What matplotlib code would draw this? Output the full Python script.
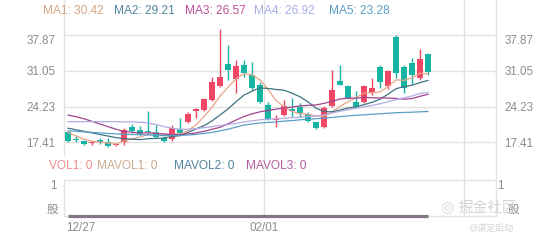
import matplotlib.pyplot as plt

plt.rcParams['font.family'] = ['Liberation Sans', 'Noto Sans CJK SC']

# ---- data ----
opens = [19.4, 17.9, 17.7, 17.3, 17.85, 17.5, 16.8, 17.4, 20.4, 19.8,
         19.5, 19.4, 18.3, 18.0, 19.95, 21.2, 23.3, 23.6, 25.5, 28.2,
         32.3, 29.4, 32.2, 30.3, 28.35, 24.5, 21.6, 22.6, 23.8, 24.2,
         22.76, 21.23, 20.4, 24.4, 29.1, 28.16, 25.17, 25.05, 26.77, 31.86,
         28.16, 37.58, 31.86, 32.5, 29.6, 34.3]
highs = [19.5, 18.8, 17.8, 17.7, 18.3, 18.2, 17.2, 20.2, 20.9, 20.6,
         23.4, 20.7, 18.6, 20.7, 22.0, 23.2, 23.9, 25.9, 29.9, 39.0,
         36.0, 33.1, 33.1, 32.8, 29.0, 25.1, 22.6, 25.5, 25.8, 24.9,
         23.1, 21.3, 24.3, 31.2, 32.2, 28.3, 27.2, 28.3, 29.75, 32.2,
         31.2, 37.9, 32.2, 33.4, 35.2, 34.5]
lows = [17.5, 17.5, 16.9, 16.9, 17.1, 16.6, 16.7, 16.8, 19.1, 18.8,
        19.1, 18.3, 17.4, 17.6, 18.8, 21.1, 22.0, 23.4, 25.3, 28.0,
        29.3, 26.8, 29.9, 27.4, 24.9, 21.7, 20.4, 22.5, 22.2, 22.2,
        21.2, 20.0, 20.1, 24.2, 28.3, 25.7, 23.9, 24.9, 26.4, 27.8,
        27.5, 29.6, 26.9, 28.6, 29.3, 30.2]
closes = [17.7, 17.8, 17.0, 17.4, 17.4, 16.7, 17.0, 19.7, 19.6, 18.9,
          19.4, 18.5, 17.7, 20.2, 19.1, 22.8, 23.8, 25.7, 28.9, 29.9,
          31.2, 32.0, 30.6, 27.7, 25.05, 21.9, 21.8, 24.35, 23.3, 22.95,
          21.5, 20.1, 23.9, 27.4, 28.4, 25.8, 24.2, 28.2, 27.8, 29.0,
          31.0, 30.6, 27.7, 30.3, 33.3, 30.9]

ma1 = [19.3, 18.6, 18.0, 17.6, 17.46, 17.26, 17.1, 17.64, 18.08, 18.38,
       18.92, 19.22, 18.82, 18.94, 18.98, 19.66, 20.72, 22.32, 24.06, 26.22,
       27.9, 29.54, 30.52, 30.28, 29.31, 27.45, 25.41, 24.16, 23.28, 22.86,
       22.78, 22.44, 22.35, 23.17, 24.26, 25.12, 25.94, 26.8, 26.88, 27.0,
       28.04, 29.32, 29.22, 29.72, 30.58, 30.42]
ma2 = [20.1, 19.8, 19.5, 19.2, 18.9, 18.6, 18.3, 18.1, 18.0, 17.92,
       18.09, 18.16, 18.23, 18.51, 18.68, 19.29, 19.97, 20.57, 21.5, 22.6,
       23.78, 25.13, 26.42, 27.17, 27.77, 27.68, 27.48, 27.34, 26.78, 26.09,
       25.12, 23.93, 23.26, 23.23, 23.56, 23.95, 24.19, 24.58, 25.03, 25.63,
       26.58, 27.63, 28.01, 28.3, 28.79, 29.21]
ma3 = [22.6, 22.3, 21.9, 21.4, 20.9, 20.4, 19.9, 19.5, 19.3, 19.2,
       19.2, 19.1, 19.0, 18.9, 18.9, 19.0, 19.2, 19.5, 19.9, 20.26,
       20.94, 21.65, 22.33, 22.84, 23.22, 23.48, 23.72, 23.96, 24.14, 24.34,
       24.45, 24.53, 24.84, 25.2, 25.66, 25.81, 25.83, 25.96, 25.9, 25.86,
       25.85, 25.78, 25.63, 25.76, 26.18, 26.57]
ma4 = [21.35, 21.35, 21.35, 21.35, 21.35, 21.35, 21.35, 21.3, 21.3, 21.25,
       21.1, 20.8, 20.4, 20.1, 19.9, 19.9, 20.0, 20.2, 20.4, 20.6,
       20.8, 21.0, 21.3, 21.5, 21.7, 21.8, 21.9, 22.0, 22.1, 22.2,
       22.33, 22.4, 22.64, 22.97, 23.34, 23.64, 23.88, 24.16, 24.44, 24.77,
       25.16, 25.56, 25.9, 26.23, 26.7, 26.92]
ma5 = [19.6, 19.5, 19.4, 19.3, 19.2, 19.1, 19.0, 18.95, 18.9, 18.85,
       18.8, 18.75, 18.7, 18.7, 18.7, 18.8, 18.9, 19.1, 19.3, 19.6,
       19.9, 20.3, 20.7, 20.9, 21.1, 21.2, 21.3, 21.45, 21.55, 21.7,
       21.8, 21.9, 22.0, 22.15, 22.3, 22.45, 22.55, 22.65, 22.75, 22.85,
       22.95, 23.05, 23.1, 23.15, 23.22, 23.28]

volume = [0, 0, 0, 0, 0, 0, 0, 0, 0, 0, 0, 0, 0, 0, 0, 0, 0, 0, 0, 0, 0, 0, 0,
          0, 0, 0, 0, 0, 0, 0, 0, 0, 0, 0, 0, 0, 0, 0, 0, 0, 0, 0, 0, 0, 0, 0]

price_ticks = [17.41, 24.23, 31.05, 37.87]
date_labels = ['12/27', '02/01']
ma_names = ['MA1', 'MA2', 'MA3', 'MA4', 'MA5']
ma_last = [30.42, 29.21, 26.57, 26.92, 23.28]
vol_names = ['VOL1', 'MAVOL1', 'MAVOL2', 'MAVOL3']
vol_last = [0, 0, 0, 0]

# ---- style ----
UP, DOWN = '#f04864', '#17b3a3'
GRID = '#e3e3e3'
LABEL = '#8c8c8c'
ma_line_colors = ['#eba487', '#3f7283', '#a2448f', '#b3ace3', '#5b9ec4']
ma_text_colors = ['#d3a585', '#52869c', '#bd4f98', '#a9aee6', '#5a9ec6']
vol_text_colors = ['#ee8c8c', '#c9a98c', '#4f86a0', '#b65aa0']

W, H = 560, 240
fig = plt.figure(figsize=(W / 100, H / 100), dpi=100)
ax = fig.add_axes([64 / W, 1 - 156 / H, 432 / W, 156 / H])
axv = fig.add_axes([64 / W, 1 - 216 / H, 432 / W, 60 / H])

n_slots = 54
for a in (ax, axv):
    a.set_xlim(-0.5, n_slots - 0.5)
    a.set_xticks([])
    for s in a.spines.values():
        s.set_color(GRID)
        s.set_linewidth(1.0)
    a.spines['top'].set_visible(False)
    for xv in (24.5, 49.5):
        a.axvline(xv, color=GRID, lw=1.0, zorder=0)

# ---- price panel ----
px_per_unit = 35.77 / 6.82
ax.set_ylim(17.41 - (156 - 142.3) / px_per_unit, 17.41 + 142.3 / px_per_unit)
ax.spines['bottom'].set_visible(False)
for t in price_ticks:
    ax.axhline(t, color=GRID, lw=1.0, zorder=0)
ax.set_yticks(price_ticks)
ax.set_yticklabels([f'{t:.2f}' for t in price_ticks])
ax.tick_params(axis='y', length=0, labelsize=8.4, labelcolor=LABEL,
               pad=6, labelright=True)
# top label sits under its grid line
for tick in ax.yaxis.get_major_ticks():
    if abs(tick.get_loc() - price_ticks[-1]) < 1e-6:
        tick.label1.set_va('top')
        tick.label2.set_va('top')

xs = list(range(len(closes)))
for i in xs:
    c = UP if closes[i] >= opens[i] else DOWN
    ax.vlines(i, lows[i], highs[i], color=c, lw=1.0, zorder=3, clip_on=False)
    lo = min(opens[i], closes[i])
    h = max(abs(closes[i] - opens[i]), 0.15)
    ax.bar(i, h, bottom=lo, width=0.78, color=c, zorder=4, linewidth=0)

for ma, col in zip([ma1, ma2, ma3, ma4, ma5], ma_line_colors):
    ax.plot(xs, ma, color=col, lw=0.9, zorder=5)

# ---- volume panel ----
axv.set_ylim(0, 60 / 36)
axv.spines['left'].set_bounds(0, 1)
axv.axhline(1, color=GRID, lw=1.0, zorder=0)
axv.set_yticks([])
axv.plot(xs, volume, color='#857585', lw=2.3, zorder=5, clip_on=False,
         solid_capstyle='butt')
axv.text(-0.5 - 7 / 8, 1, '1', ha='right', va='top', fontsize=8.4, color=LABEL)
axv.text(-0.5 - 6 / 8, 0, '股', ha='right', va='bottom', fontsize=8.4, color=LABEL)
axv.text(n_slots - 0.5 + 1 / 8, 1, '1', ha='left', va='top', fontsize=8.4, color=LABEL)
axv.text(n_slots - 0.5 + 12 / 8, 0, '股', ha='left', va='bottom', fontsize=8.4, color=LABEL)
axv.text(-0.5 + 2 / 8, -0.17, date_labels[0], ha='left', va='top', fontsize=8.4, color=LABEL)
axv.text(24.5, -0.17, date_labels[1], ha='center', va='top', fontsize=8.4, color=LABEL)

# ---- legends ----
ma_x = [43, 114, 185, 254, 329]
for x, name, val, col in zip(ma_x, ma_names, ma_last, ma_text_colors):
    fig.text(x / W, 1 - 11 / H, f'{name}: {val:.2f}', color=col,
             fontsize=8.6, va='center')
vol_x = [49, 97, 174, 246]
for x, name, val, col in zip(vol_x, vol_names, vol_last, vol_text_colors):
    fig.text(x / W, 1 - 166 / H, f'{name}: {val}', color=col,
             fontsize=8.6, va='center')

# watermark
fig.text(447 / W, 1 - 208 / H, '◎', color='#d8d8d8', fontsize=11,
         ha='center', va='center', family=['DejaVu Sans'])
fig.text(459 / W, 1 - 208 / H, '掘金社区', color='#d4d4d4', fontsize=10.5,
         va='center')
fig.text(468 / W, 1 - 228 / H, '@谋定后动', color='#d4d4d4', fontsize=6.5,
         va='center')

fig.savefig('out.png', dpi=100)
